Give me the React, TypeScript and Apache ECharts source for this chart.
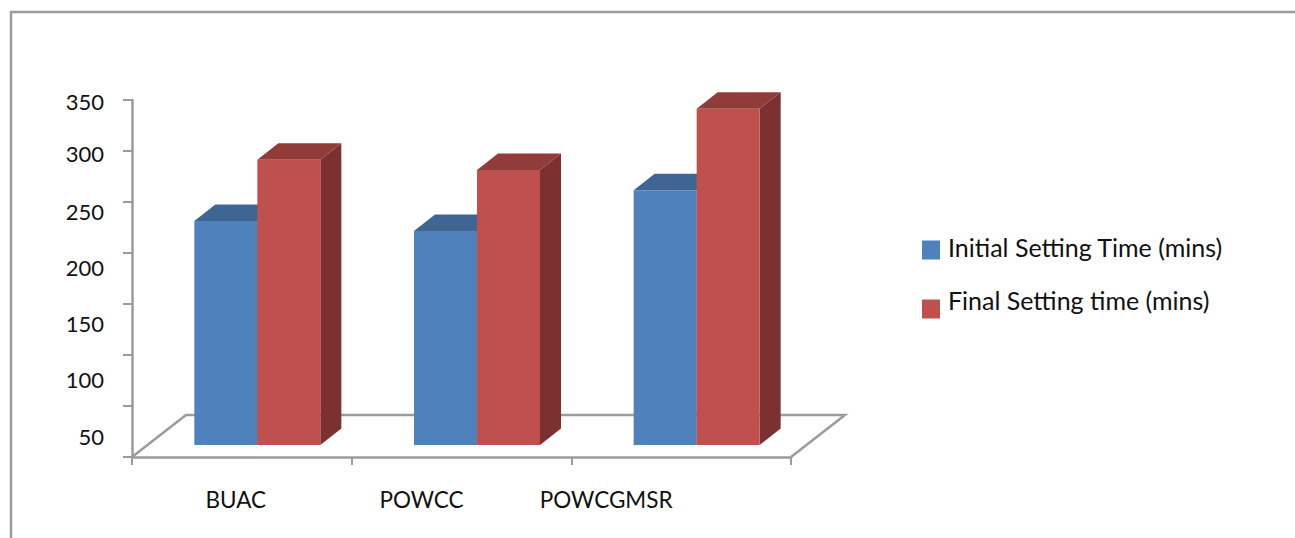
import React, { useEffect, useRef } from "react";
import * as echarts from "echarts";

const categories = ["BUAC", "POWCC", "POWCGMSR"];
const initialSetting = [230, 220, 260];
const finalSetting = [290, 280, 340];
const seriesNames = ["Initial Setting Time (mins)", "Final Setting time (mins)"];
const tickValues = [350, 300, 250, 200, 150, 100, 50];

// Vertical drift of each y label below its tick, in px.
const yLabelDrift: Record<number, number> = { 350: 1, 300: 2, 250: 9, 200: 14, 150: 19, 100: 24, 50: 30 };
// Horizontal drift of each category label to the left of its band centre, in px.
const xLabelDrift = [6, 40, 75];

const FONT = "Lato";
const GREY = "#9b9b9b";
const BLUE = { front: "#4f81bd", top: "#3f6593", side: "#385d8a" };
const RED = { front: "#c0504d", top: "#923c3a", side: "#7c302f" };
const BAR_W = 63;
const DEPTH_X = 21;
const DEPTH_Y = 16.5;
const FLOOR_LIFT = 12;
const TOP_LIFT = 1.5;
const BAND_SHIFT = 15.5;

// Extruded bar: front face, top face and right side face.
function bar3d(colors: typeof BLUE, side: -1 | 1) {
  return (_params: any, api: any) => {
    const idx = api.value(0);
    const [cx, top] = api.coord([idx, api.value(1)]);
    const [, zero] = api.coord([idx, 0]);
    const x0 = cx + BAND_SHIFT + (side < 0 ? -BAR_W : 0);
    const x1 = x0 + BAR_W;
    const y0 = top - TOP_LIFT;
    const y1 = zero - FLOOR_LIFT;
    return {
      type: "group",
      children: [
        {
          type: "polygon",
          shape: { points: [[x1, y0], [x1 + DEPTH_X, y0 - DEPTH_Y], [x1 + DEPTH_X, y1 - DEPTH_Y], [x1, y1]] },
          style: { fill: colors.side },
        },
        {
          type: "polygon",
          shape: { points: [[x0, y0], [x0 + DEPTH_X, y0 - DEPTH_Y], [x1 + DEPTH_X, y0 - DEPTH_Y], [x1, y0]] },
          style: { fill: colors.top },
        },
        { type: "rect", shape: { x: x0, y: y0, width: BAR_W, height: y1 - y0 }, style: { fill: colors.front } },
      ],
    };
  };
}

export default function App() {
  const ref = useRef<HTMLDivElement>(null);

  useEffect(() => {
    document.body.style.margin = "0";
    const chart = echarts.init(ref.current!, null, { renderer: "svg" });

    const yRich: Record<string, any> = {};
    tickValues.forEach((v) => {
      yRich["v" + v] = {
        fontFamily: FONT,
        fontSize: 22,
        color: "#111",
        padding: [yLabelDrift[v] * 2, 0, 0, 0],
      };
    });
    const xRich: Record<string, any> = {};
    categories.forEach((_c, i) => {
      xRich["c" + i] = {
        fontFamily: FONT,
        fontSize: 22.5,
        color: "#111",
        padding: [0, xLabelDrift[i] * 2, 0, 0],
      };
    });

    chart.setOption({
      animation: false,
      backgroundColor: "#ffffff",
      grid: { left: 132, top: 100, width: 659, height: 357 },
      xAxis: {
        type: "category",
        data: categories,
        axisLine: { lineStyle: { color: GREY, width: 2.5 } },
        axisTick: { show: true, length: 8, alignWithLabel: false, interval: 0, lineStyle: { color: GREY, width: 2 } },
        axisLabel: {
          margin: 31,
          interval: 0,
          formatter: (value: string) => `{c${categories.indexOf(value)}|${value}}`,
          rich: xRich,
        },
      },
      yAxis: {
        type: "value",
        min: 0,
        max: 350,
        interval: 50,
        splitLine: { show: false },
        axisLine: { show: true, lineStyle: { color: GREY, width: 2.5 } },
        axisTick: { show: true, length: 9, lineStyle: { color: GREY, width: 2 } },
        axisLabel: {
          margin: 28,
          formatter: (value: number) => (value === 0 ? "" : `{v${value}|${value}}`),
          rich: yRich,
        },
      },
      legend: {
        orient: "vertical",
        left: 922,
        top: 234,
        padding: 0,
        itemWidth: 18,
        itemHeight: 19,
        itemGap: 28,
        icon: "rect",
        selectedMode: false,
        formatter: (name: string) => (name === seriesNames[0] ? `{a|${name}}` : `{b|${name}}`),
        textStyle: {
          rich: {
            a: { fontFamily: FONT, fontSize: 25, color: "#111", padding: [0, 0, 7, 3] },
            b: { fontFamily: FONT, fontSize: 25, color: "#111", padding: [0, 0, 18, 3] },
          },
        },
        data: seriesNames,
      },
      graphic: [
        {
          type: "polyline",
          z: 0,
          shape: { points: [[11, 538], [11, 12], [1295, 12]] },
          style: { stroke: GREY, lineWidth: 2.5, fill: "none" },
        },
        {
          type: "polyline",
          z: 0,
          shape: { points: [[132, 457], [186, 415], [845, 415], [791, 457]] },
          style: { stroke: GREY, lineWidth: 2.5, fill: "none" },
        },
      ],
      series: [
        {
          name: seriesNames[0],
          type: "custom",
          z: 5,
          itemStyle: { color: BLUE.front },
          renderItem: bar3d(BLUE, -1),
          encode: { x: 0, y: 1 },
          data: initialSetting.map((v, i) => [i, v]),
        },
        {
          name: seriesNames[1],
          type: "custom",
          z: 6,
          itemStyle: { color: RED.front },
          renderItem: bar3d(RED, 1),
          encode: { x: 0, y: 1 },
          data: finalSetting.map((v, i) => [i, v]),
        },
      ],
    });

    return () => chart.dispose();
  }, []);

  return <div ref={ref} style={{ width: 1295, height: 538 }} />;
}
